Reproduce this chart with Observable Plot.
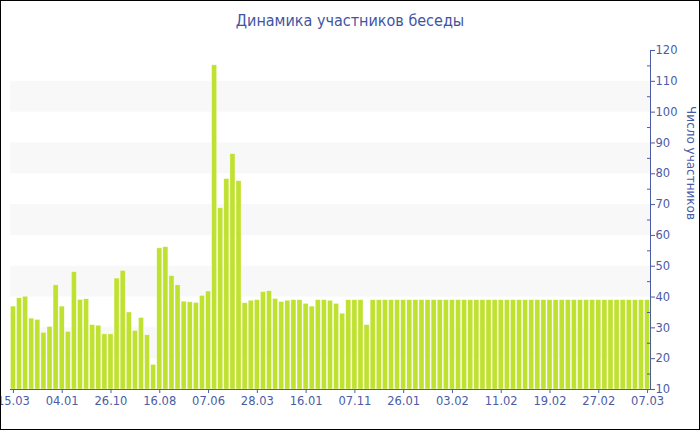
<!DOCTYPE html>
<html>
<head>
<meta charset="utf-8">
<script src="https://cdn.jsdelivr.net/npm/d3@7"></script>
<script src="https://cdn.jsdelivr.net/npm/@observablehq/plot@0.6"></script>
<style>
  html, body { margin: 0; padding: 0; background: #fff; }
  #wrap { position: relative; width: 700px; height: 430px; overflow: hidden; }
  #border { position: absolute; left: 0; top: 0; width: 700px; height: 430px; box-sizing: border-box; border: 1px solid #000; pointer-events: none; }
  #title { position: absolute; left: 0; top: 11px; width: 700px; text-align: center;
           font-family: "DejaVu Sans Condensed", "DejaVu Sans", sans-serif; font-size: 16px; color: #3f55a3; }
  #chart { position: absolute; left: 0; top: 0; }
</style>
</head>
<body>
<div id="wrap">
  <div id="chart"></div>
  <div id="title">Динамика участников беседы</div>
  <div id="border"></div>
</div>
<script>
// Number of chat participants per period
const values = [
  36.9, 39.6, 40.1, 33.0, 32.6, 28.4, 30.3, 43.8, 36.9, 28.7,
  48.1, 39.1, 39.3, 30.9, 30.7, 27.9, 27.9, 46.0, 48.5, 35.0,
  29.0, 33.2, 27.6, 18.0, 55.8, 56.2, 46.8, 43.8, 38.5, 38.3,
  38.1, 40.4, 41.8, 115.2, 68.8, 78.3, 86.4, 77.6, 38.0, 38.8,
  39.0, 41.6, 41.9, 39.4, 38.4, 38.8, 39.0, 39.0, 37.8, 36.9,
  39.0, 39.0, 38.8, 37.8, 34.6, 39.0, 39.0, 39.0, 30.9, 39.0,
  39.0, 39.0, 39.0, 39.0, 39.0, 39.0, 39.0, 39.0, 39.0, 39.0,
  39.0, 39.0, 39.0, 39.0, 39.0, 39.0, 39.0, 39.0, 39.0, 39.0,
  39.0, 39.0, 39.0, 39.0, 39.0, 39.0, 39.0, 39.0, 39.0, 39.0,
  39.0, 39.0, 39.0, 39.0, 39.0, 39.0, 39.0, 39.0, 39.0, 39.0,
  39.0, 39.0, 39.0, 39.0, 39.0
];
// x tick labels, one every 8 bars starting from the first
const xTickLabels = ["15.03", "04.01", "26.10", "16.08", "07.06", "28.03", "16.01",
                     "07.11", "26.01", "03.02", "11.02", "19.02", "27.02", "07.03"];
const labelStep = 8;
// y axis
const yTicks = [10, 20, 30, 40, 50, 60, 70, 80, 90, 100, 110, 120];
const yMinorTicks = [15, 25, 35, 45, 55, 65, 75, 85, 95, 105, 115];
const bandStarts = [20, 40, 60, 80, 100];
const bandSize = 10;
const yTitle = "Число участников";

const axisColor = "#4a5ca6";
const barColor = "#bfe12f";

const categories = values.map((_, i) => i);
const rows = values.map((v, i) => ({ i, v }));
const xTicks = xTickLabels.map((_, k) => categories[k * labelStep]);

const chart = Plot.plot({
  width: 700,
  height: 430,
  marginTop: 50,
  marginBottom: 41,
  marginLeft: 10,
  marginRight: 50,
  style: { fontFamily: "DejaVu Sans, Verdana, sans-serif", fontSize: "11.5px", background: "transparent", overflow: "visible" },
  x: { type: "band", domain: categories, paddingInner: 0.16, paddingOuter: 0.06, round: false, axis: null },
  y: { domain: [10, 120], axis: null },
  marks: [
    Plot.rect(bandStarts, { y1: d => d, y2: d => d + bandSize, fill: "#f8f8f8" }),
    Plot.barY(rows, { x: "i", y1: yTicks[0], y2: "v", fill: barColor, stroke: "#ffffff", strokeWidth: 0.6, strokeOpacity: 0.7 }),
    Plot.ruleY([yTicks[0]], { stroke: axisColor, strokeWidth: 1 }),
    Plot.frame({ anchor: "right", stroke: axisColor, strokeWidth: 1 }),
    Plot.axisX({ ticks: xTicks, tickFormat: i => xTickLabels[i / labelStep], tickSize: 4, tickPadding: 3,
                 color: axisColor, fontSize: 11.5, label: null }),
    Plot.axisY({ anchor: "right", ticks: yTicks, tickSize: 4, tickPadding: 1, color: axisColor, fontSize: 11.5,
                 label: null }),
    Plot.axisY({ anchor: "right", ticks: yMinorTicks, tickSize: -4, text: null, color: axisColor, label: null }),
    Plot.text([yTitle], { frameAnchor: "right", dx: 40, rotate: 90, fill: axisColor, fontSize: 12 })
  ]
});
document.getElementById("chart").appendChild(chart);
</script>
</body>
</html>
